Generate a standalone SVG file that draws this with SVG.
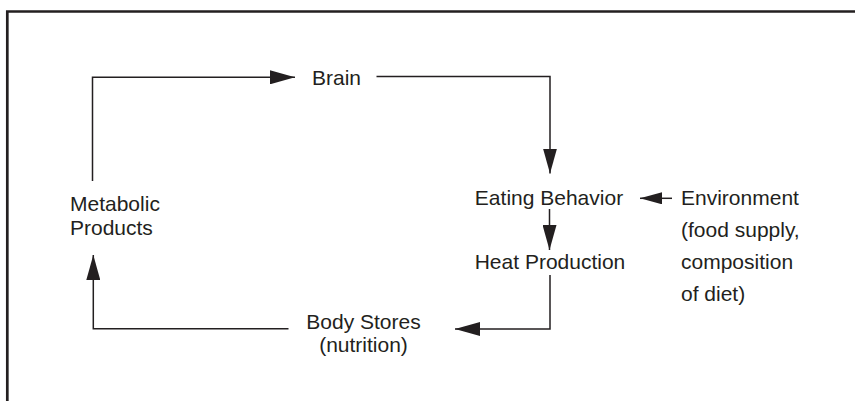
<svg xmlns="http://www.w3.org/2000/svg" width="855" height="401" viewBox="0 0 855 401">
  <style>
    .t { font-family: "Liberation Sans", Arial, Helvetica, sans-serif; font-size: 21px; fill: #231f20; }
    .m { text-anchor: middle; }
    .c { fill: none; stroke: #231f20; stroke-width: 1.5; }
    .frame { fill: none; stroke: #231f20; stroke-width: 2.7; }
  </style>
  <defs>
    <marker id="ah" markerUnits="userSpaceOnUse" markerWidth="25" markerHeight="14" refX="25" refY="7" orient="auto" viewBox="0 0 25 14">
      <path d="M0,0 L25,7 L0,14 Z" fill="#231f20"/>
    </marker>
    <marker id="ahs" markerUnits="userSpaceOnUse" markerWidth="22" markerHeight="12" refX="22" refY="6" orient="auto" viewBox="0 0 22 12">
      <path d="M0,0 L22,6 L0,12 Z" fill="#231f20"/>
    </marker>
  </defs>
  <rect width="855" height="401" fill="#ffffff"/>
  <path class="frame" d="M7.3,401 V11.5 H855"/>

  <g id="connectors">
    <path class="c" d="M92.5,181 V77.3 H295" marker-end="url(#ah)"/>
    <path class="c" d="M376.5,76.5 H550 V173.5" marker-end="url(#ah)"/>
    <path class="c" d="M549.5,209 V250" marker-end="url(#ah)"/>
    <path class="c" d="M550,275 V329 H455" marker-end="url(#ah)"/>
    <path class="c" d="M288.5,328.7 H93.3 V255" marker-end="url(#ah)"/>
    <path class="c" d="M672,198.3 H640" marker-end="url(#ahs)"/>
  </g>

  <g id="brain"><text class="t" x="312" y="85">Brain</text></g>
  <g id="metabolic-products">
    <text class="t" x="70" y="211">Metabolic</text>
    <text class="t" x="70" y="235">Products</text>
  </g>
  <g id="eating-behavior"><text class="t m" x="549" y="205">Eating Behavior</text></g>
  <g id="heat-production"><text class="t m" x="550" y="269">Heat Production</text></g>
  <g id="environment">
    <text class="t" x="681" y="205">Environment</text>
    <text class="t" x="681" y="237">(food supply,</text>
    <text class="t" x="681" y="269">composition</text>
    <text class="t" x="681" y="300.5">of diet)</text>
  </g>
  <g id="body-stores">
    <text class="t m" x="363.5" y="329">Body Stores</text>
    <text class="t m" x="363.5" y="352">(nutrition)</text>
  </g>
</svg>
